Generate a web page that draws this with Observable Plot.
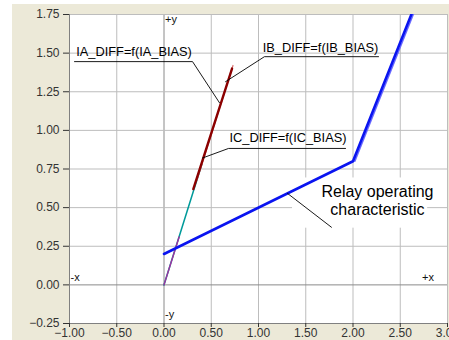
<!DOCTYPE html>
<html><head><meta charset="utf-8">
<script src="https://cdn.jsdelivr.net/npm/d3@7"></script>
<script src="https://cdn.jsdelivr.net/npm/@observablehq/plot@0.6"></script>
<style>
body{margin:0;background:#fff;}
#c{position:absolute;left:12px;top:4px;}
</style></head><body><div id="c"></div>
<script>
// ticks
const xTicks = [-1, -0.5, 0, 0.5, 1, 1.5, 2, 2.5, 3];
const yTicks = [-0.25, 0, 0.25, 0.5, 0.75, 1, 1.25, 1.5, 1.75];

// relay operating characteristic
const relayX = [0, 2, 2.65];
const relayY = [0.2, 0.8, 1.8];
const relay2X = [2.02, 2.67];
const relay2Y = [0.8, 1.8];

// measured diff = f(bias) traces
const iaX = [0.31, 0.72], iaY = [0.62, 1.40];
const ibX = [0.35, 0.73], ibY = [0.68, 1.42];
const icX = [0, 0.40],   icY = [0, 0.78];
const imX = [0, 0.16],   imY = [0, 0.31];

// annotation labels and leader lines
const labelText = ["IA_DIFF=f(IA_BIAS)", "IB_DIFF=f(IB_BIAS)", "IC_DIFF=f(IC_BIAS)"];
const labelX = [-0.317, 1.656, 1.312];
const labelY = [1.510, 1.536, 0.951];
const leaderIA = {x: [-0.947, 0.302, 0.587], y: [1.445, 1.445, 1.179]};
const leaderIB = {x: [2.270, 1.063, 0.651], y: [1.477, 1.477, 1.315]};
const leaderIC = {x: [1.921, 0.683, 0.407], y: [0.883, 0.883, 0.821]};
const relayLabel = "Relay operating\ncharacteristic";
const relayLabelX = 2.259, relayLabelY = 0.549;
const relayBox = {x1: 1.36, x2: 2.79, y1: 0.367, y2: 0.692};
const leaderRelay = {x: [1.307, 1.772], y: [0.592, 0.373]};

// quadrant labels
const quadText = ["+y", "-y", "-x", "+x"];
const quadX = [0, 0, -1, 2.72];
const quadY = [1.717, -0.19, 0.049, 0.05];

const pts = (xs, ys) => xs.map((x, i) => ({x, y: ys[i]}));
const fmt = d3.format(".2f");

const chart = Plot.plot({
  width: 437, height: 336,
  marginLeft: 57, marginTop: 10, marginRight: 2, marginBottom: 17,
  style: {background: "#ECE9D8", fontFamily: "Liberation Sans, Arial, sans-serif", fontSize: "12px", overflow: "visible"},
  x: {domain: [-1, 3], axis: null},
  y: {domain: [-0.25, 1.75], axis: null},
  marks: [
    Plot.frame({fill: "white", stroke: "none"}),
    Plot.ruleX(xTicks, {stroke: d => d === 0 ? "#8a8a8a" : "#bdbdbd", strokeWidth: 1}),
    Plot.ruleY(yTicks, {stroke: d => d === 0 ? "#8a8a8a" : "#bdbdbd", strokeWidth: 1}),
    Plot.frame({anchor: "left", stroke: "#808080"}),
    Plot.frame({anchor: "bottom", stroke: "#808080"}),
    Plot.axisY(yTicks, {tickSize: 6, tickPadding: 4, tickFormat: fmt, color: "#333", fontSize: 12}),
    Plot.axisX(xTicks, {tickSize: 4, tickPadding: 1, tickFormat: fmt, color: "#333", fontSize: 12}),
    Plot.rect([relayBox], {x1: "x1", x2: "x2", y1: "y1", y2: "y2", fill: "white"}),
    Plot.line(pts(icX, icY), {x: "x", y: "y", stroke: "#009a9a", strokeWidth: 1.6}),
    Plot.line(pts(imX, imY), {x: "x", y: "y", stroke: "#a0309f", strokeWidth: 1.4}),
    Plot.line(pts(ibX, ibY), {x: "x", y: "y", stroke: "#d87070", strokeWidth: 1.2}),
    Plot.line(pts(iaX, iaY), {x: "x", y: "y", stroke: "#8b0000", strokeWidth: 2.4}),
    Plot.line(pts(relay2X, relay2Y), {x: "x", y: "y", stroke: "#6a6aff", strokeWidth: 1.5, clip: true}),
    Plot.line(pts(relayX, relayY), {x: "x", y: "y", stroke: "#0a14f0", strokeWidth: 2.6, clip: true}),
    Plot.line(pts(leaderIA.x, leaderIA.y), {x: "x", y: "y", stroke: "#000", strokeWidth: 0.9}),
    Plot.line(pts(leaderIB.x, leaderIB.y), {x: "x", y: "y", stroke: "#000", strokeWidth: 0.9}),
    Plot.line(pts(leaderIC.x, leaderIC.y), {x: "x", y: "y", stroke: "#000", strokeWidth: 0.9}),
    Plot.line(pts(leaderRelay.x, leaderRelay.y), {x: "x", y: "y", stroke: "#000", strokeWidth: 0.9}),
    Plot.text(labelText.map((t, i) => ({t, x: labelX[i], y: labelY[i]})), {x: "x", y: "y", text: "t", fontSize: 12.8, fill: "#000"}),
    Plot.text([{t: relayLabel, x: relayLabelX, y: relayLabelY}], {x: "x", y: "y", text: "t", fontSize: 16, lineHeight: 1.15, fill: "#000"}),
    Plot.text(quadText.map((t, i) => ({t, x: quadX[i], y: quadY[i]})), {x: "x", y: "y", text: "t", textAnchor: "start", dx: 1, fontSize: 11, fill: "#111"})
  ]
});
document.getElementById("c").append(chart);
</script></body></html>
